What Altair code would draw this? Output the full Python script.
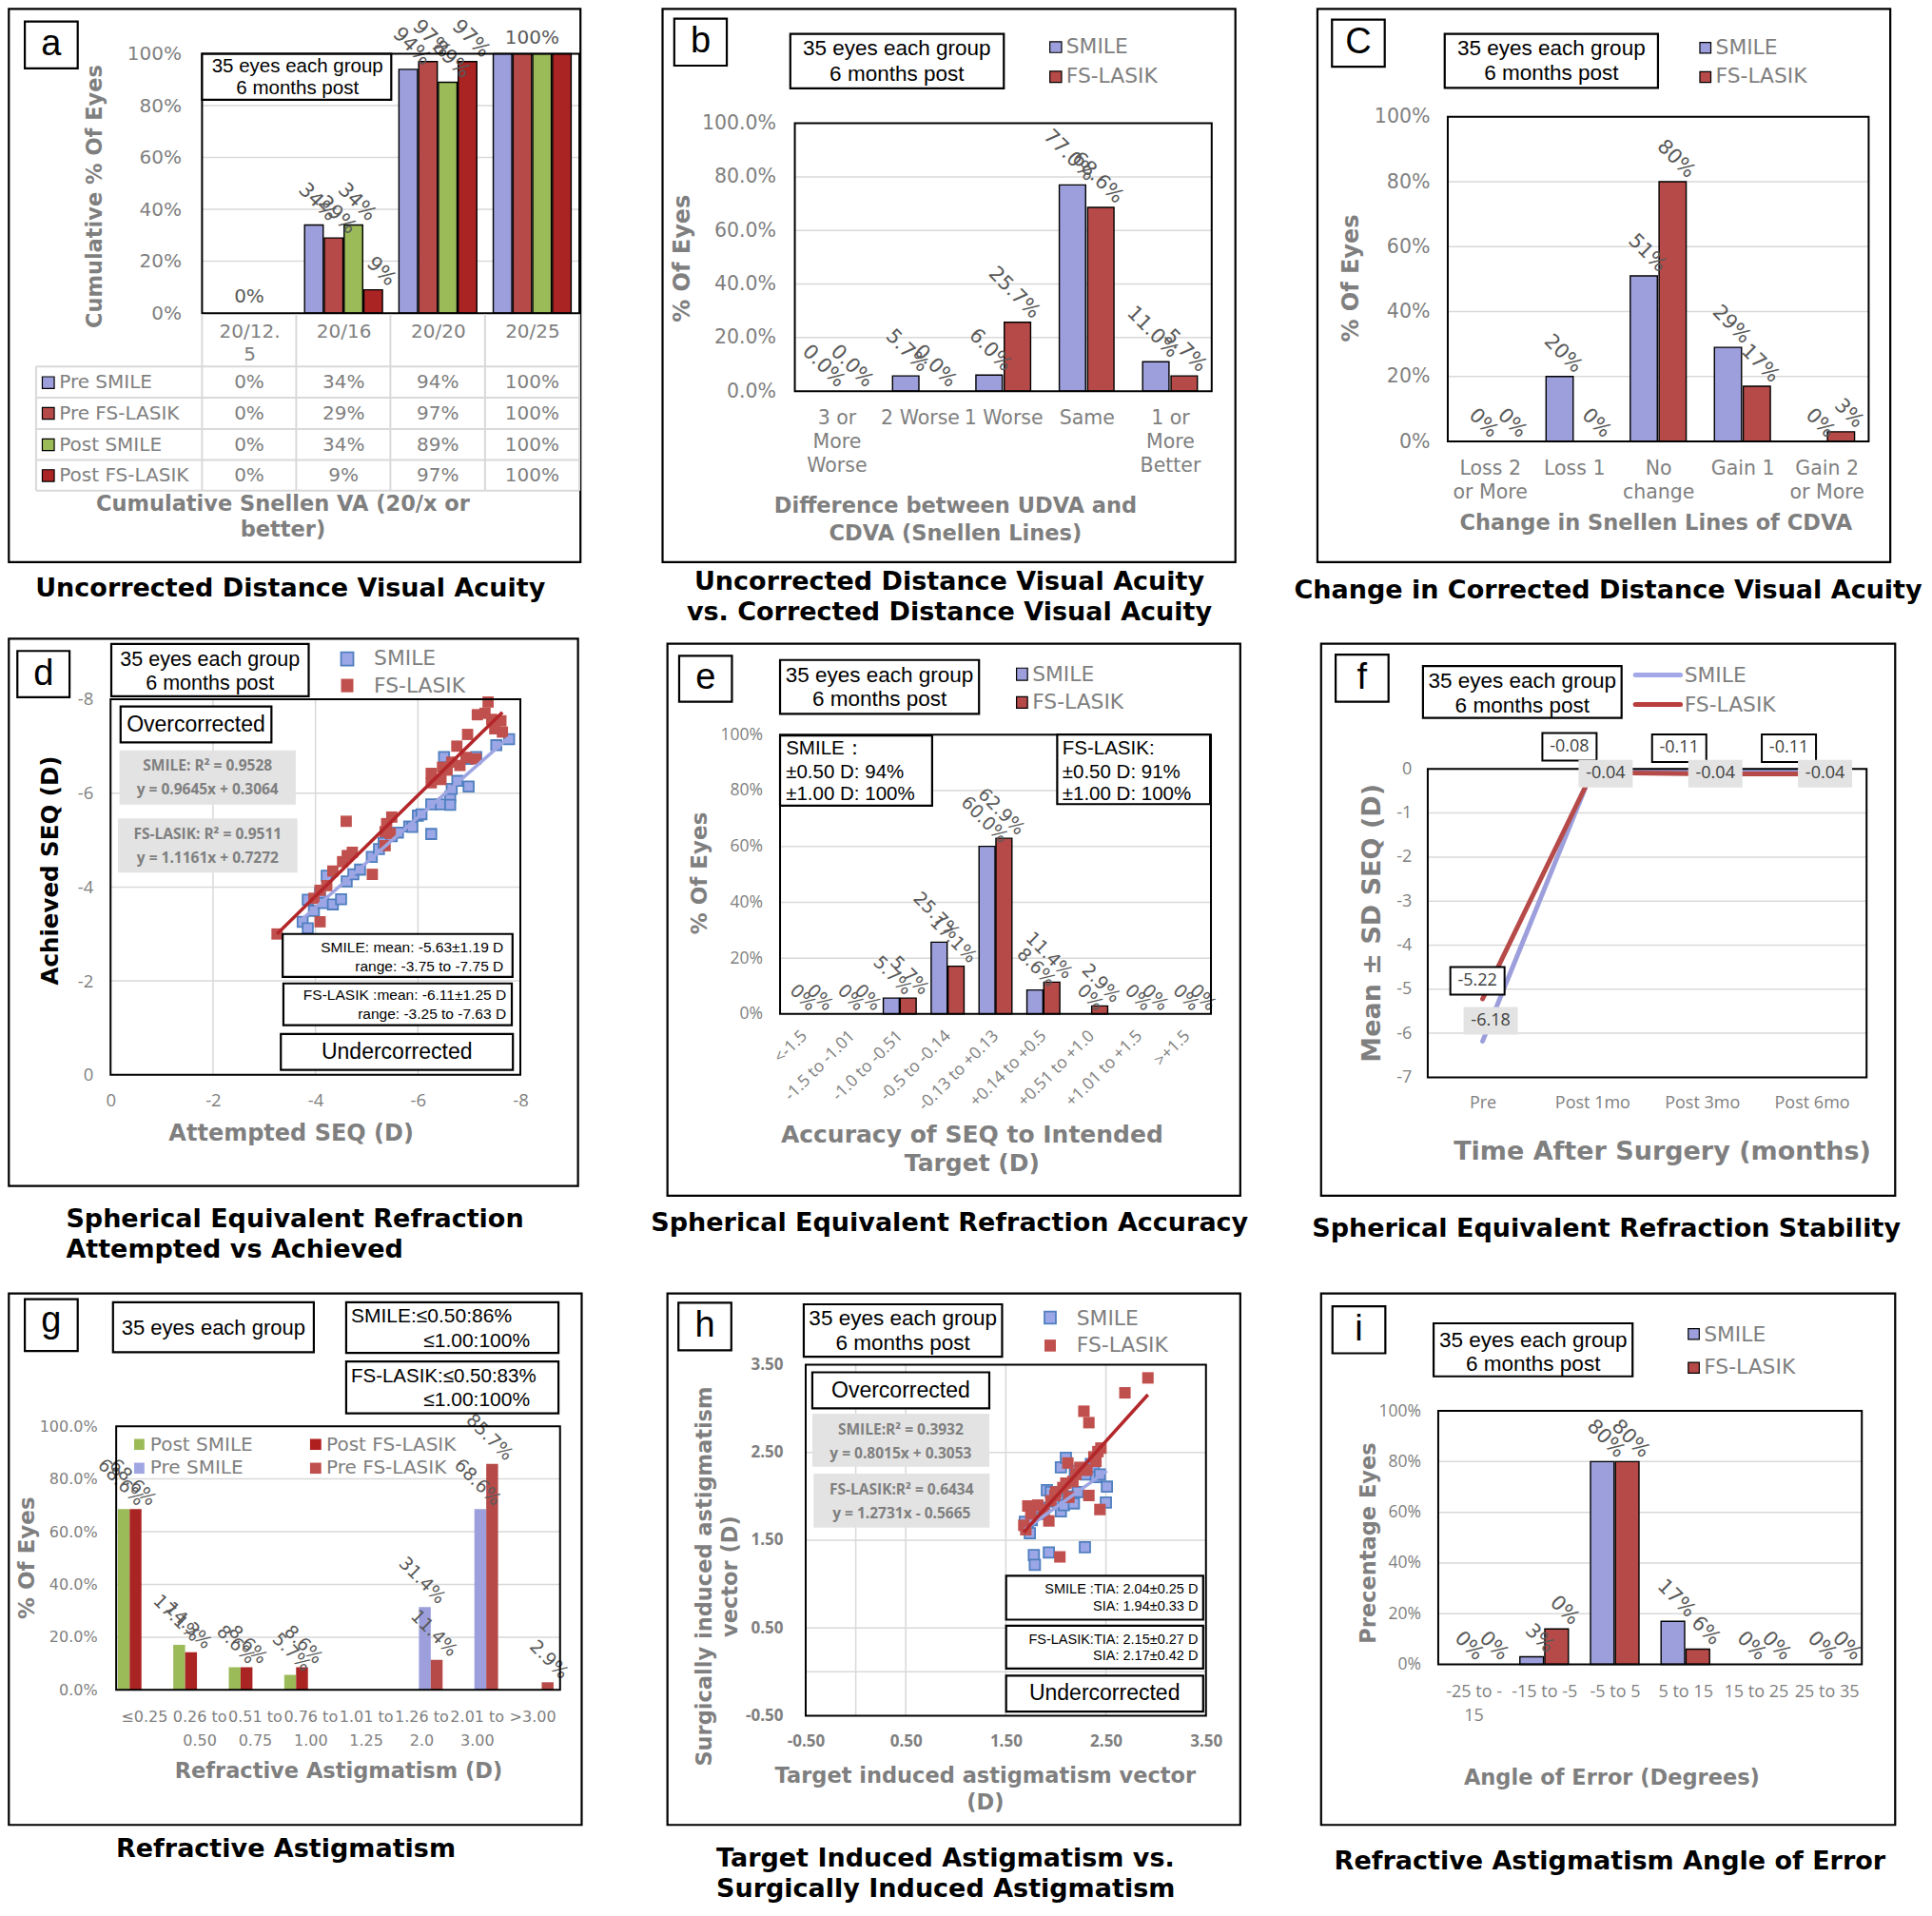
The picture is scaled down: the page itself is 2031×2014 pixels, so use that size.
import json
import altair as alt
import pandas as pd

# ================= values =================
A_CATS = ["20/12.5", "20/16", "20/20", "20/25"]
A_SERIES = ["Pre SMILE", "Pre FS-LASIK", "Post SMILE", "Post FS-LASIK"]
A_PRE_SMILE = [0, 34, 94, 100]
A_PRE_FS = [0, 29, 97, 100]
A_POST_SMILE = [0, 34, 89, 100]
A_POST_FS = [0, 9, 97, 100]

PAIR = ["SMILE", "FS-LASIK"]

B_CATS = ["3 or\nMore\nWorse", "2 Worse", "1 Worse", "Same", "1 or\nMore\nBetter"]
B_SMILE = [0.0, 5.7, 6.0, 77.0, 11.0]
B_FS = [0.0, 0.0, 25.7, 68.6, 5.7]

C_CATS = ["Loss 2\nor More", "Loss 1", "No\nchange", "Gain 1", "Gain 2\nor More"]
C_SMILE = [0, 20, 51, 29, 0]
C_FS = [0, 0, 80, 17, 3]

D_SMILE_X = [-3.75, -3.85, -3.85, -3.97, -4.09, -4.15, -4.22, -4.34, -4.50, -4.61, -4.74, -4.87, -5.10, -5.24,
             -5.33, -5.49, -5.61, -5.83, -5.89, -6.00, -6.07, -6.26, -6.26, -6.45, -6.51, -6.63, -6.63, -6.66,
             -6.77, -6.97, -6.99, -7.14, -7.53, -7.78]
D_SMILE_Y = [-3.26, -3.12, -3.73, -3.49, -3.87, -3.66, -4.24, -3.63, -3.74, -4.12, -4.27, -4.37, -4.64, -4.81,
             -4.94, -5.08, -5.16, -5.29, -5.28, -5.52, -5.55, -5.13, -5.76, -5.76, -6.77, -5.92, -5.75, -6.09,
             -6.26, -6.73, -6.14, -6.77, -7.02, -7.15]
D_FS_X = [-3.25, -3.97, -4.09, -4.09, -4.22, -4.34, -4.53, -4.60, -4.62, -4.72, -5.11, -5.36, -5.36, -5.39,
          -5.46, -5.49, -6.26, -6.26, -6.45, -6.48, -6.57, -6.66, -6.76, -6.82, -6.94, -6.97, -7.13, -7.16,
          -7.31, -7.37, -7.44, -7.50, -7.62, -7.65]
D_FS_Y = [-3.00, -3.76, -3.26, -3.93, -4.03, -4.34, -4.54, -5.40, -4.67, -4.74, -4.27, -4.88, -5.18, -5.35,
          -5.14, -5.49, -6.22, -6.42, -6.29, -6.55, -6.49, -6.66, -7.00, -6.59, -6.76, -7.25, -6.73, -7.67,
          -7.70, -7.94, -7.57, -7.37, -7.54, -7.30]

E_CATS = ["<-1.5", "-1.5 to -1.01", "-1.0 to -0.51", "-0.5 to -0.14", "-0.13 to +0.13", "+0.14 to +0.5",
          "+0.51 to +1.0", "+1.01 to +1.5", ">+1.5"]
E_SMILE = [0, 0, 5.7, 25.7, 60.0, 8.6, 0, 0, 0]
E_FS = [0, 0, 5.7, 17.1, 62.9, 11.4, 2.9, 0, 0]

F_CATS = ["Pre", "Post 1mo", "Post 3mo", "Post 6mo"]
F_SMILE = [-6.18, -0.04, -0.04, -0.04]
F_FS = [-5.22, -0.08, -0.11, -0.11]

G_CATS = ["\u22640.25", "0.26 to\n0.50", "0.51 to\n0.75", "0.76 to\n1.00", "1.01 to\n1.25", "1.26 to\n2.0",
          "2.01 to\n3.00", ">3.00"]
G_SERIES = ["Post SMILE", "Post FS-LASIK", "Pre SMILE", "Pre FS-LASIK"]
G_POST_SMILE = [68.6, 17.1, 8.6, 5.7, 0, 0, 0, 0]
G_POST_FS = [68.6, 14.3, 8.6, 8.6, 0, 0, 0, 0]
G_PRE_SMILE = [0, 0, 0, 0, 0, 31.4, 68.6, 0]
G_PRE_FS = [0, 0, 0, 0, 0, 11.4, 85.7, 2.9]

H_SMILE_X = [1.69, 1.72, 1.74, 1.76, 1.78, 1.79, 1.84, 1.88, 1.91, 1.93, 1.95, 1.99, 2.02, 2.05, 2.05, 2.08,
             2.10, 2.15, 2.18, 2.19, 2.22, 2.25, 2.29, 2.30, 2.35, 2.38, 2.40, 2.44, 2.50, 2.51]
H_SMILE_Y = [1.71, 1.65, 1.58, 1.73, 1.33, 1.22, 1.87, 1.80, 2.07, 1.36, 2.05, 1.94, 1.97, 1.83, 2.33, 1.90,
             2.44, 2.00, 1.92, 2.29, 2.05, 2.30, 1.42, 2.25, 2.37, 2.33, 2.22, 2.25, 1.93, 2.11]
H_FS_X = [1.68, 1.70, 1.72, 1.75, 1.82, 1.88, 1.93, 1.95, 1.99, 2.00, 2.04, 2.07, 2.10, 2.12, 2.13, 2.17,
          2.20, 2.24, 2.28, 2.28, 2.31, 2.33, 2.33, 2.38, 2.40, 2.42, 2.44, 2.45, 2.69, 2.92]
H_FS_Y = [1.67, 1.62, 1.89, 1.80, 1.90, 1.85, 1.72, 1.95, 2.01, 2.05, 1.31, 2.10, 2.15, 2.38, 1.99, 2.17,
          2.25, 2.33, 2.30, 2.97, 2.30, 2.84, 2.01, 2.45, 2.40, 2.51, 1.85, 2.55, 3.18, 3.35]

I_CATS = ["-25 to -\n15", "-15 to -5", "-5 to 5", "5 to 15", "15 to 25", "25 to 35"]
I_SMILE = [0, 3, 80, 17, 0, 0]
I_FS = [0, 14, 80, 6, 0, 0]
I_SMILE_LABELS = ["0%", "3%", "80%", "17%", "0%", "0%"]
I_FS_LABELS = ["0%", "0%", "80%", "6%", "0%", "0%"]

# ================= styling =================
S = 1.284
O = -2.5


def C(d):
    return d * S + O


GRAY = "#7f7f7f"
LABC = "#595959"
GRID = "#d9d9d9"
LAV = "#9c9fdb"
RED = "#b64a48"
DRED = "#ab2424"
GREEN = "#9bbb59"
G_LAV = "#a0a6e2"
G_RED = "#c0504d"
G_DRED = "#b01f1f"
SQ_BLUE = "#9ba7e6"
SQ_EDGE = "#4f7fbf"
SQ_RED = "#c0504d"
TR_LAV = "#9ea5e3"
TR_RED = "#b3262a"
F_LAV = "#a3a8e8"
F_RED = "#b83f3d"
BOXG = "#e3e3e3"
VER = "DejaVu Sans"
ARI = "Liberation Sans"
CAL = "Open Sans"
MINUS = "\u2212"
PCT = "datum.value + '%'"
STEPS = [0, 20, 40, 60, 80, 100]
INNER = [20, 40, 60, 80]


def nominus(fmt):
    return "replace(format(datum.value, '" + fmt + "'), '" + MINUS + "', '-')"


def cat_expr(cats, split=True):
    arr = "[" + ",".join(json.dumps(c, ensure_ascii=False) for c in cats) + "]"
    e = arr + "[datum.value]"
    return "split(" + e + ", '\\n')" if split else e


def long_df(cats, named):
    rows = []
    for s, vals in named:
        for i, (c, v) in enumerate(zip(cats, vals)):
            rows.append({"cat": c, "series": s, "value": v, "idx": i})
    return pd.DataFrame(rows)


class Panel:
    """One cell of the 3x3 grid. The view is the whole cell; the data rectangle is placed via scale ranges."""

    def __init__(self, plot, cell):
        cx0, cy0, cx1, cy1 = cell
        self.ox = C(cx0)
        self.oy = C(cy0)
        self.w = round(C(cx1) - self.ox, 2)
        self.h = round(C(cy1) - self.oy, 2)
        x0, y0, x1, y1 = plot
        self.px0, self.py0, self.px1, self.py1 = self.X(x0), self.Y(y0), self.X(x1), self.Y(y1)
        self.layers = []

    def X(self, d):
        return round(C(d) - self.ox, 2)

    def Y(self, d):
        return round(C(d) - self.oy, 2)

    def xr(self):
        return [self.px0, self.px1]

    def yr(self):
        return [self.py1, self.py0]

    def yoff(self):
        return -self.px0

    def xoff(self):
        return round(self.py1 - self.h, 2)

    @staticmethod
    def one():
        return alt.Chart(alt.Data(values=[{"k": 1}]))

    def rect(self, x0, y0, x1, y1, fill="white", stroke="black", sw=1.8, fill_opacity=1.0):
        mk = {"fill": fill}
        if fill_opacity < 1:
            mk["fillOpacity"] = fill_opacity
        if stroke:
            mk["stroke"] = stroke
            mk["strokeWidth"] = sw
        else:
            mk["strokeWidth"] = 0
        self.layers.append(self.one().mark_rect(**mk).encode(
            x=alt.value(self.X(x0)), x2=alt.value(self.X(x1)),
            y=alt.value(self.Y(y0)), y2=alt.value(self.Y(y1))))

    def border(self, sw=2.0):
        self.layers.append(self.one().mark_rect(fill="white", fillOpacity=0, stroke="black", strokeWidth=sw).encode(
            x=alt.value(self.px0), x2=alt.value(self.px1), y=alt.value(self.py0), y2=alt.value(self.py1)))

    def hgrid(self, values, ys, yax, color=GRID, width=1.5):
        df = pd.DataFrame({"v": list(values)})
        self.layers.append(alt.Chart(df).mark_rule(color=color, strokeWidth=width).encode(
            y=alt.Y("v:Q", scale=ys, axis=yax), x=alt.value(self.px0), x2=alt.value(self.px1)))

    def vgrid(self, values, xs, xax, color=GRID, width=1.5):
        df = pd.DataFrame({"v": list(values)})
        self.layers.append(alt.Chart(df).mark_rule(color=color, strokeWidth=width).encode(
            x=alt.X("v:Q", scale=xs, axis=xax), y=alt.value(self.py0), y2=alt.value(self.py1)))

    def rule(self, x0, y0, x1, y1, color=GRID, width=2.0, cap="butt"):
        self.layers.append(self.one().mark_rule(color=color, strokeWidth=width, strokeCap=cap).encode(
            x=alt.value(self.X(x0)), x2=alt.value(self.X(x1)),
            y=alt.value(self.Y(y0)), y2=alt.value(self.Y(y1))))

    def text(self, x, y, s, size, color="black", font=VER, weight="normal", align="center", angle=0):
        mk = dict(text=s, fontSize=size, fill=color, font=font, fontWeight=weight, align=align,
                  baseline="middle")
        if angle:
            mk["angle"] = angle
        self.layers.append(self.one().mark_text(**mk).encode(x=alt.value(self.X(x)), y=alt.value(self.Y(y))))

    def frame(self, x0, y0, x1, y1):
        self.rect(x0, y0, x1, y1, fill="white", fill_opacity=0.0, sw=2.2)

    def letter(self, box, ch, dy=0.0):
        x0, y0, x1, y1 = box
        self.rect(x0, y0, x1, y1, sw=2.2)
        self.text((x0 + x1) / 2, (y0 + y1) / 2 + dy, ch, 38, font=ARI)

    def note(self, box, lines, cx, ys, size=22.5):
        self.rect(*box, sw=2.2)
        for s, y in zip(lines, ys):
            self.text(cx, y, s, size, font=ARI)

    def ytitle(self, x, y, s, size, color=GRAY):
        self.text(x, y, s, size, color=color, weight="bold", angle=270)

    def xtitle(self, x, ys, lines, size):
        for s, y in zip(lines, ys):
            self.text(x, y, s, size, color=GRAY, weight="bold")

    def caption(self, x, ys, lines, align="center"):
        for s, y in zip(lines, ys):
            self.text(x, y, s, 27, weight="bold", align=align)

    def legend_sq(self, items, x0, x1, tx, size=21.8, edge="black"):
        for label, col, y0, y1, ty in items:
            self.rect(x0, y0, x1, y1, fill=col, stroke=edge, sw=1.2)
            self.text(tx, ty, label, size, color=GRAY, align="left")

    def chart(self):
        return alt.layer(*self.layers).properties(width=self.w, height=self.h)


def yaxis(p, values, expr, font, size, pad, weight="normal"):
    return alt.Axis(values=list(values), labelExpr=expr, labelFont=font, labelFontSize=size,
                    labelFontWeight=weight, labelColor=GRAY, labelPadding=pad, labelFlush=False,
                    labelOverlap=False, grid=False, domain=False, ticks=False, title=None, offset=p.yoff())


def xaxis(p, font, size, pad, expr, values, angle=0, align="center", baseline="top", lh=25, weight="normal"):
    return alt.Axis(values=list(values), labelExpr=expr, labelFont=font, labelFontSize=size,
                    labelFontWeight=weight, labelColor=GRAY, labelPadding=pad, labelAngle=angle,
                    labelAlign=align, labelBaseline=baseline, labelLineHeight=lh, labelOverlap=False,
                    labelFlush=False, labelLimit=600, grid=False, domain=False, ticks=False, title=None,
                    offset=p.xoff())


def bar_panel(p, df, cats, series, colors, geom, yax, xax, outline, lsize, ldx, ldy, label_filter=None):
    """geom = (group start inside the category step, slot width, bar width), in category-step units."""
    start, slot, bar = geom
    n = len(cats)
    xs = alt.Scale(domain=[-0.5, n - 0.5], range=p.xr(), nice=False, zero=False)
    ys = alt.Scale(domain=[0, 100], range=p.yr(), nice=False, zero=True)
    p.hgrid(INNER, ys, yax)
    order = json.dumps(series)
    base = alt.Chart(df).transform_calculate(
        k=f"indexof({order}, datum.series)"
    ).transform_calculate(
        x0=f"datum.idx - 0.5 + {start} + datum.k * {slot} + {(slot - bar) / 2}"
    ).transform_calculate(
        x1=f"datum.x0 + {bar}", xc=f"datum.x0 + {bar / 2}"
    )
    mk = dict(stroke="black", strokeWidth=1.4) if outline else dict(strokeWidth=0)
    bars = base.transform_filter("datum.value > 0").mark_bar(**mk).encode(
        x=alt.X("x0:Q", scale=xs, axis=xax), x2="x1:Q",
        y=alt.Y("value:Q", scale=ys, axis=yax), y2=alt.datum(0),
        color=alt.Color("series:N", scale=alt.Scale(domain=series, range=colors), legend=None))
    lab = base
    if label_filter is not None:
        lab = lab.transform_filter(label_filter)
    labels = lab.mark_text(angle=45, align="right", baseline="middle", dx=ldx, dy=ldy,
                           font=VER, fontSize=lsize, fill=LABC).encode(
        x=alt.X("xc:Q", scale=xs, axis=xax), y=alt.Y("value:Q", scale=ys, axis=yax), text="label:N")
    p.layers += [bars, labels]
    p.border()
    return xs, ys


def scatter_layers(p, sx, sy, fx, fy, xs, ys, xax, yax, s_size, f_size, lw):
    sdf = pd.DataFrame({"x": sx, "y": sy})
    fdf = pd.DataFrame({"x": fx, "y": fy})
    enc = dict(x=alt.X("x:Q", scale=xs, axis=xax), y=alt.Y("y:Q", scale=ys, axis=yax))
    p.layers += [
        alt.Chart(sdf).mark_square(size=s_size, filled=True, fill=SQ_BLUE, stroke=SQ_EDGE, strokeWidth=1.8,
                                   opacity=1).encode(**enc),
        alt.Chart(fdf).mark_square(size=f_size, filled=True, fill=SQ_RED, opacity=1).encode(**enc),
        alt.Chart(sdf).transform_regression("x", "y").mark_line(color=TR_LAV, strokeWidth=lw).encode(**enc),
        alt.Chart(fdf).transform_regression("x", "y").mark_line(color=TR_RED, strokeWidth=lw).encode(**enc),
    ]


COL = [(1, 500), (500, 1045), (1045, 1568)]
ROW = [(1, 512), (512, 1040), (1040, 1555)]


def cell(r, c):
    return (COL[c][0], ROW[r][0], COL[c][1], ROW[r][1])


LB = (21, 9.0, -19.3)   # big rotated bar labels: size, dx, dy
LS = (19, 8.4, -17.8)   # small rotated bar labels

# ================= panel a =================
pa = Panel((160.2, 38.8, 469.1, 251.1), cell(0, 0))
pa.frame(2, 2, 470, 455)
adf = long_df(A_CATS, list(zip(A_SERIES, [A_PRE_SMILE, A_PRE_FS, A_POST_SMILE, A_POST_FS])))
adf["label"] = [f"{v:.0f}%" for v in adf["value"]]
a_cols = [LAV, RED, GREEN, DRED]
a_yax = yaxis(pa, STEPS, PCT, VER, 20, 22)
a_xax = xaxis(pa, VER, 20, 19, "datum.value == 0 ? ['20/12.', '5'] : " + cat_expr(A_CATS, split=False),
              range(len(A_CATS)), baseline="middle", lh=24.5)
a_xs, a_ys = bar_panel(pa, adf, A_CATS, A_SERIES, a_cols, (0.081, 0.2095, 0.197), a_yax, a_xax, True, *LB,
                       label_filter=alt.FieldOneOfPredicate(field="cat", oneOf=["20/16", "20/20"]))
pa.layers.append(
    alt.Chart(adf)
    .transform_filter(alt.FieldEqualPredicate(field="series", equal="Pre SMILE"))
    .transform_filter(alt.FieldOneOfPredicate(field="cat", oneOf=["20/12.5", "20/25"]))
    .mark_text(font=VER, fontSize=20, fill=LABC, baseline="middle", dy=-17)
    .encode(x=alt.X("idx:Q", scale=a_xs, axis=a_xax), y=alt.Y("value:Q", scale=a_ys, axis=a_yax),
            text="label:N"))
for yy in [294.8, 320.3, 346.1, 371.3, 396.5]:
    pa.rule(24.3, yy, 469.1, yy)
pa.rule(24.3, 294.8, 24.3, 396.5)
for xx in [237.3, 314.4, 391.9, 469.1]:
    pa.rule(xx, 252.0, xx, 396.5)
pa.rule(160.2, 252.0, 160.2, 396.5)
for s, col, ry in zip(A_SERIES, a_cols, [308.0, 333.2, 358.9, 384.1]):
    pa.layers.append(
        alt.Chart(adf).transform_filter(alt.FieldEqualPredicate(field="series", equal=s))
        .mark_text(font=VER, fontSize=20, fill=GRAY, baseline="middle")
        .encode(x=alt.X("idx:Q", scale=a_xs, axis=a_xax), y=alt.value(pa.Y(ry)), text="label:N"))
    pa.rect(29.4, ry - 4.8, 39.2, ry + 4.8, fill=col, stroke="black", sw=1.2)
    pa.text(43.2, ry, s, 20, color=GRAY, align="left")
pa.note((160.2, 38.8, 315.1, 76.5), ["35 eyes each group", "6 months post"], 238.3, [49.2, 67.4], 20.5)
pa.letter((15.1, 12.4, 58.4, 50.8), "a")
pa.ytitle(72.3, 155.7, "Cumulative % Of Eyes", 22.5)
pa.xtitle(226.4, [407.8, 428.9], ["Cumulative Snellen VA (20/x or", "better)"], 22.5)
pa.caption(232.5, [477.0], ["Uncorrected Distance Visual Acuity"])

# ================= panel b =================
pb = Panel((645.3, 95.7, 986.6, 315.0), cell(0, 1))
pb.frame(537, 2, 1006, 455)
bdf = long_df(B_CATS, [("SMILE", B_SMILE), ("FS-LASIK", B_FS)])
bdf["label"] = [f"{v:.1f}%" for v in bdf["value"]]
bar_panel(pb, bdf, B_CATS, PAIR, [LAV, RED], (0.16, 0.34, 0.316),
          yaxis(pb, STEPS, "format(datum.value, '.1f') + '%'", VER, 20.5, 20),
          xaxis(pb, VER, 20.5, 18.8, cat_expr(B_CATS), range(len(B_CATS))), True, *LB)
pb.legend_sq([("SMILE", LAV, 29.0, 37.8, 32.9), ("FS-LASIK", RED, 53.1, 62.2, 57.3)], 854.1, 863.7, 867.4)
pb.note((641.6, 22.5, 816.4, 67.1), ["35 eyes each group", "6 months post"], 728.8, [34.5, 55.7])
pb.letter((546.6, 10.1, 589.6, 48.5), "b")
pb.ytitle(553.4, 206.4, "% Of Eyes", 24)
pb.xtitle(776.8, [408.8, 431.6], ["Difference between  UDVA and", "CDVA (Snellen Lines)"], 22.5)
pb.caption(771.8, [471.6, 496.6], ["Uncorrected Distance Visual Acuity", "vs. Corrected Distance Visual Acuity"])

# ================= panel c =================
pc = Panel((1179.7, 90.4, 1524.3, 356.2), cell(0, 2))
pc.frame(1073, 2, 1542, 455)
cdf = long_df(C_CATS, [("SMILE", C_SMILE), ("FS-LASIK", C_FS)])
cdf["label"] = [f"{v:.0f}%" for v in cdf["value"]]
bar_panel(pc, cdf, C_CATS, PAIR, [LAV, RED], (0.1575, 0.3425, 0.322),
          yaxis(pc, STEPS, PCT, VER, 20.5, 19),
          xaxis(pc, VER, 20.5, 18.8, cat_expr(C_CATS), range(len(C_CATS))), True, *LB)
pc.legend_sq([("SMILE", LAV, 29.5, 38.3, 33.6), ("FS-LASIK", RED, 53.5, 62.3, 57.2)], 1386.1, 1395.1, 1399.0)
pc.note((1177.2, 22.5, 1351.8, 66.7), ["35 eyes each group", "6 months post"], 1264.5, [34.5, 55.0])
pc.letter((1084.9, 10.8, 1128.1, 49.4), "C")
pc.ytitle(1100.9, 222.6, "% Of Eyes", 24)
pc.xtitle(1350.2, [423.4], ["Change in Snellen Lines of CDVA"], 22.5)
pc.caption(1311.0, [478.7], ["Change in Corrected Distance Visual Acuity"])

# ================= panel d =================
pdd = Panel((85.3, 566.5, 420.8, 874.0), cell(1, 0))
pdd.frame(2, 517, 468, 965)
d_vals = [0, -2, -4, -6, -8]
d_xs = alt.Scale(domain=[0, -8], range=pdd.xr(), nice=False, zero=False)
d_ys = alt.Scale(domain=[0, -8], range=pdd.yr(), nice=False, zero=False)
d_xax = xaxis(pdd, CAL, 18.5, 27, nominus("d"), d_vals, baseline="middle")
d_yax = yaxis(pdd, d_vals, nominus("d"), CAL, 18.5, 18.4)
pdd.hgrid([-2, -4, -6], d_ys, d_yax)
pdd.vgrid([-2, -4, -6], d_xs, d_xax)
scatter_layers(pdd, D_SMILE_X, D_SMILE_Y, D_FS_X, D_FS_Y, d_xs, d_ys, d_xax, d_yax, 115, 140, 3.5)
pdd.border()
pdd.rect(274.0, 528.0, 284.1, 539.0, fill=SQ_BLUE, stroke=SQ_EDGE, sw=1.8)
pdd.rect(274.0, 549.8, 284.1, 560.8, fill=SQ_RED, stroke=None)
pdd.text(300.9, 533.0, "SMILE", 21.8, color=GRAY, align="left")
pdd.text(300.9, 555.4, "FS-LASIK", 21.8, color=GRAY, align="left")
pdd.note((85.9, 521.3, 247.5, 564.1), ["35 eyes each group", "6 months post"], 166.7, [534.7, 553.8], 21.5)
pdd.letter((9.0, 527.0, 51.7, 564.8), "d")
pdd.note((93.5, 572.5, 217.0, 601.9), ["Overcorrected"], 155.2, [587.2], 23)
pdd.rect(92.6, 608.3, 236.9, 652.8, fill=BOXG, stroke=None)
pdd.text(164.7, 621.0, "SMILE: R\u00b2 = 0.9528", 15.5, color=GRAY, font=CAL, weight="bold")
pdd.text(164.7, 640.7, "y = 0.9645x + 0.3064", 15.5, color=GRAY, font=CAL, weight="bold")
pdd.rect(91.4, 664.0, 238.3, 708.5, fill=BOXG, stroke=None)
pdd.text(164.8, 676.8, "FS-LASIK: R\u00b2 = 0.9511", 15.5, color=GRAY, font=CAL, weight="bold")
pdd.text(164.8, 696.9, "y = 1.1161x + 0.7272", 15.5, color=GRAY, font=CAL, weight="bold")
pdd.rect(226.2, 758.7, 414.4, 793.8, sw=2.2)
pdd.text(407.0, 769.7, "SMILE:  mean: -5.63\u00b11.19 D", 15.5, font=ARI, align="right")
pdd.text(407.0, 785.4, "range: -3.75 to -7.75 D", 15.5, font=ARI, align="right")
pdd.rect(226.8, 799.2, 413.8, 833.3, sw=2.2)
pdd.text(409.2, 808.8, "FS-LASIK :mean: -6.11\u00b11.25 D", 15.5, font=ARI, align="right")
pdd.text(409.2, 824.5, "range: -3.25 to -7.63 D", 15.5, font=ARI, align="right")
pdd.note((224.7, 840.6, 414.7, 870.0), ["Undercorrected"], 319.7, [855.6], 23)
pdd.ytitle(36.6, 706.7, "Achieved SEQ (D)", 24.5, color="black")
pdd.xtitle(233.2, [922.5], ["Attempted SEQ (D)"], 24)
pdd.caption(48.8, [992.7, 1017.8], ["Spherical Equivalent Refraction", "Attempted vs Achieved"], align="left")

# ================= panel e =================
pe = Panel((633.2, 595.5, 986.0, 824.2), cell(1, 1))
pe.frame(541, 521, 1010, 973)
edf = long_df(E_CATS, [("SMILE", E_SMILE), ("FS-LASIK", E_FS)])
edf["label"] = ["0%" if v == 0 else f"{v:.1f}%" for v in edf["value"]]
bar_panel(pe, edf, E_CATS, PAIR, [LAV, RED], (0.1465, 0.353, 0.334),
          yaxis(pe, STEPS, PCT, CAL, 17.5, 18.5),
          xaxis(pe, CAL, 17.5, 20, cat_expr(E_CATS, split=False), range(len(E_CATS)), angle=315, align="right",
                baseline="middle"),
          True, *LS)
pe.legend_sq([("SMILE", LAV, 541.0, 551.0, 546.0), ("FS-LASIK", RED, 564.5, 573.8, 569.0)], 826.8, 835.8, 839.7)
pe.note((633.2, 534.4, 796.1, 578.5), ["35 eyes each group", "6 months post"], 714.6, [547.0, 566.8])
pe.letter((550.6, 531.0, 593.8, 568.5), "e")
pe.rect(633.2, 596.2, 757.7, 653.7, sw=2.2)
for s, y in zip(["SMILE\uff1a", "\u00b10.50 D: 94%", "\u00b11.00 D: 100%"], [607.0, 626.3, 644.7]):
    pe.text(638.0, y, s, 20.5, font=ARI, align="left")
pe.rect(860.1, 595.5, 985.3, 652.4, sw=2.2)
for s, y in zip(["FS-LASIK:", "\u00b10.50 D: 91%", "\u00b11.00 D: 100%"], [607.0, 626.3, 644.7]):
    pe.text(864.3, y, s, 20.5, font=ARI, align="left")
pe.ytitle(567.6, 709.0, "% Of Eyes", 23)
pe.xtitle(790.4, [923.2, 946.2], ["Accuracy of SEQ to Intended", "Target (D)"], 25)
pe.caption(772.0, [995.7], ["Spherical Equivalent Refraction Accuracy"])

# ================= panel f =================
pf = Panel((1163.3, 623.6, 1522.6, 876.0), cell(1, 2))
pf.frame(1076, 521, 1546, 973)
fdf = long_df(F_CATS, [("SMILE", F_SMILE), ("FS-LASIK", F_FS)])
fdf["label"] = [f"{v:.2f}" for v in fdf["value"]]
f_xs = alt.Scale(type="point", domain=F_CATS, padding=0.5, range=pf.xr())
f_ys = alt.Scale(domain=[-7, 0], range=pf.yr(), nice=False, zero=False)
f_xax = alt.Axis(labelFont=CAL, labelFontSize=18, labelColor=GRAY, labelPadding=27, labelBaseline="middle",
                 labelAngle=0, labelAlign="center", labelOverlap=False, labelLimit=600, grid=False,
                 domain=False, ticks=False, title=None, offset=pf.xoff())
f_yax = yaxis(pf, list(range(-7, 1)), nominus("d"), CAL, 18, 17)
f_enc = dict(x=alt.X("cat:N", scale=f_xs, axis=f_xax), y=alt.Y("value:Q", scale=f_ys, axis=f_yax))
pf.hgrid(list(range(-6, 0)), f_ys, f_yax)
pf.layers.append(alt.Chart(fdf).mark_line(strokeWidth=5, strokeCap="round").encode(
    color=alt.Color("series:N", scale=alt.Scale(domain=PAIR, range=[F_LAV, F_RED]), legend=None),
    order=alt.Order("idx:Q"), **f_enc))
pf.border()


def box_path(w, h, cx, cy):
    return (f"M{cx - w / 2:.1f},{cy - h / 2:.1f}H{cx + w / 2:.1f}V{cy + h / 2:.1f}"
            f"H{cx - w / 2:.1f}Z")


F_LABEL_STYLE = [
    ("datum.series == 'FS-LASIK' && datum.idx > 0", -24.0, -27.0, "white", True),
    ("datum.series == 'FS-LASIK' && datum.idx == 0", -5.4, -19.0, "white", True),
    ("datum.series == 'SMILE' && datum.idx > 0", 14.0, 3.0, BOXG, False),
    ("datum.series == 'SMILE' && datum.idx == 0", 8.5, -21.4, BOXG, False),
]
for cond, cx, cy, fill, edged in F_LABEL_STYLE:
    sub = alt.Chart(fdf).transform_filter(cond)
    mk = dict(shape=box_path(57, 29, cx, cy), size=4, filled=True, fill=fill, opacity=1)
    if edged:
        mk.update(stroke="black", strokeWidth=2)
    else:
        mk.update(strokeWidth=0)
    pf.layers.append(sub.mark_point(**mk).encode(**f_enc))
    pf.layers.append(sub.mark_text(dx=cx, dy=cy, font=CAL, fontSize=18, fill="#404040", baseline="middle")
                     .encode(text="label:N", **f_enc))
pf.rule(1333.3, 546.7, 1370.2, 546.7, color=F_LAV, width=5, cap="round")
pf.rule(1333.3, 570.8, 1370.2, 570.8, color=F_RED, width=5, cap="round")
pf.text(1373.4, 546.7, "SMILE", 21.8, color=GRAY, align="left")
pf.text(1373.4, 570.8, "FS-LASIK", 21.8, color=GRAY, align="left")
pf.note((1159.4, 539.4, 1322.0, 581.8), ["35 eyes each group", "6 months post"], 1240.7, [551.8, 571.8])
pf.letter((1087.9, 530.0, 1131.2, 568.5), "f")
pf.ytitle(1118.3, 749.8, "Mean \u00b1 SD SEQ (D)", 27)
pf.xtitle(1355.4, [937.2], ["Time After Surgery (months)"], 27)
pf.caption(1309.5, [1000.7], ["Spherical Equivalent Refraction Stability"])

# ================= panel g =================
pg = Panel((89.9, 1161.6, 453.3, 1377.5), cell(2, 0))
pg.frame(2, 1053, 471, 1488)
gdf = long_df(G_CATS, list(zip(G_SERIES, [G_POST_SMILE, G_POST_FS, G_PRE_SMILE, G_PRE_FS])))
gdf["label"] = [f"{v:.1f}%" for v in gdf["value"]]
bar_panel(pg, gdf, G_CATS, G_SERIES, [GREEN, G_DRED, G_LAV, G_RED], (0.029, 0.2135, 0.2135),
          yaxis(pg, STEPS, "format(datum.value, '.1f') + '%'", VER, 16, 20),
          xaxis(pg, VER, 16, 20, cat_expr(G_CATS), range(len(G_CATS))),
          False, *LS, label_filter="datum.value > 0")
for label, col, x0, x1, y0, y1, tx, ty in [
        ("Post SMILE", GREEN, 104.6, 113.0, 1172.0, 1181.0, 117.7, 1177.0),
        ("Pre SMILE", G_LAV, 104.6, 113.0, 1191.5, 1200.5, 117.7, 1196.0),
        ("Post FS-LASIK", G_DRED, 248.6, 257.8, 1172.0, 1181.0, 262.0, 1177.0),
        ("Pre FS-LASIK", G_RED, 248.6, 257.8, 1191.5, 1200.5, 262.0, 1196.0)]:
    pg.rect(x0, y0, x1, y1, fill=col, stroke=None)
    pg.text(tx, ty, label, 20, color=GRAY, align="left")
pg.note((87.3, 1060.2, 251.7, 1101.1), ["35 eyes each group"], 169.5, [1081.5], 22)
pg.rect(278.2, 1060.2, 452.0, 1101.7, sw=2.2)
pg.text(282.1, 1071.6, "SMILE:\u22640.50:86%", 21, font=ARI, align="left")
pg.text(341.5, 1091.9, "\u22641.00:100%", 21, font=ARI, align="left")
pg.rect(278.2, 1108.6, 452.0, 1151.1, sw=2.2)
pg.text(282.1, 1120.7, "FS-LASIK:\u22640.50:83%", 20.5, font=ARI, align="left")
pg.text(341.5, 1140.3, "\u22641.00:100%", 21, font=ARI, align="left")
pg.letter((15.1, 1057.6, 58.4, 1100.0), "g", dy=-3)
pg.ytitle(17.2, 1269.5, "% Of Eyes", 23)
pg.xtitle(272.0, [1443.9], ["Refractive Astigmatism (D)"], 22.5)
pg.caption(228.8, [1508.3], ["Refractive Astigmatism"])

# ================= panel h =================
ph = Panel((654.2, 1111.3, 981.9, 1398.6), cell(2, 1))
ph.frame(541, 1053, 1010, 1488)
h_vals = [-0.5, 0.5, 1.5, 2.5, 3.5]
h_xs = alt.Scale(domain=[-0.5, 3.5], range=ph.xr(), nice=False, zero=False)
h_ys = alt.Scale(domain=[-0.5, 3.5], range=ph.yr(), nice=False, zero=False)
h_xax = xaxis(ph, CAL, 17, 27.5, nominus(".2f"), h_vals, baseline="middle", weight="bold")
h_yax = yaxis(ph, h_vals, nominus(".2f"), CAL, 17, 24, weight="bold")
ph.hgrid([0, 0.5, 1.5, 2.5], h_ys, h_yax)
ph.vgrid([0, 0.5, 1.5, 2.5], h_xs, h_xax)
scatter_layers(ph, H_SMILE_X, H_SMILE_Y, H_FS_X, H_FS_Y, h_xs, h_ys, h_xax, h_yax, 120, 145, 3.5)
ph.border()
ph.rect(849.7, 1067.7, 859.0, 1077.6, fill=SQ_BLUE, stroke=SQ_EDGE, sw=1.8)
ph.rect(849.7, 1090.7, 859.0, 1100.5, fill=SQ_RED, stroke=None)
ph.text(876.0, 1073.3, "SMILE", 21.8, color=GRAY, align="left")
ph.text(876.0, 1095.6, "FS-LASIK", 21.8, color=GRAY, align="left")
ph.note((652.6, 1061.8, 815.0, 1104.8), ["35 eyes each group", "6 months post"], 733.8, [1073.3, 1094.0])
ph.letter((550.0, 1060.5, 593.3, 1099.5), "h")
ph.note((659.6, 1117.5, 804.5, 1147.0), ["Overcorrected"], 732.0, [1132.3], 23)
ph.rect(659.6, 1151.3, 804.5, 1194.8, fill=BOXG, stroke=None)
ph.text(732.0, 1164.4, "SMILE:R\u00b2 = 0.3932", 15.5, color=GRAY, font=CAL, weight="bold")
ph.text(732.0, 1184.0, "y = 0.8015x + 0.3053", 15.5, color=GRAY, font=CAL, weight="bold")
ph.rect(660.6, 1200.4, 804.8, 1244.6, fill=BOXG, stroke=None)
ph.text(732.7, 1213.5, "FS-LASIK:R\u00b2 = 0.6434", 15.5, color=GRAY, font=CAL, weight="bold")
ph.text(732.7, 1233.2, "y = 1.2731x - 0.5665", 15.5, color=GRAY, font=CAL, weight="bold")
ph.rect(818.3, 1284.0, 979.6, 1320.0, sw=2.2)
ph.text(975.4, 1295.4, "SMILE   :TIA: 2.04\u00b10.25 D", 14.5, font=ARI, align="right")
ph.text(975.4, 1309.5, "SIA: 1.94\u00b10.33 D", 14.5, font=ARI, align="right")
ph.rect(818.3, 1325.0, 979.6, 1360.0, sw=2.2)
ph.text(975.4, 1336.4, "FS-LASIK:TIA: 2.15\u00b10.27 D", 14.5, font=ARI, align="right")
ph.text(975.4, 1350.1, "SIA: 2.17\u00b10.42 D", 14.5, font=ARI, align="right")
ph.note((818.3, 1365.9, 979.6, 1395.3), ["Undercorrected"], 898.9, [1380.6], 23)
ph.ytitle(571.5, 1284.6, "Surgically induced astigmatism", 22.5)
ph.ytitle(592.4, 1284.6, "vector (D)", 22.5)
ph.xtitle(801.3, [1447.8, 1470.0], ["Target induced astigmatism vector", "(D)"], 22.5)
ph.caption(581.0, [1515.9, 1541.1], ["Target Induced Astigmatism vs.", "Surgically Induced Astigmatism"],
           align="left")

# ================= panel i =================
pi_ = Panel((1171.9, 1149.1, 1518.7, 1356.6), cell(2, 2))
pi_.frame(1076, 1053, 1546, 1488)
idf = long_df(I_CATS, [("SMILE", I_SMILE), ("FS-LASIK", I_FS)])
idf["label"] = I_SMILE_LABELS + I_FS_LABELS
bar_panel(pi_, idf, I_CATS, PAIR, [LAV, RED], (0.147, 0.353, 0.334),
          yaxis(pi_, STEPS, PCT, CAL, 17.5, 18.5),
          xaxis(pi_, CAL, 18, 19.9, cat_expr(I_CATS), range(len(I_CATS))), True, *LB)
pi_.legend_sq([("SMILE", LAV, 1081.7, 1090.5, 1086.6), ("FS-LASIK", RED, 1109.4, 1118.2, 1113.3)],
              1376.6, 1385.6, 1389.4)
pi_.note((1168.1, 1077.4, 1331.0, 1120.8), ["35 eyes each group", "6 months post"], 1249.6, [1091.4, 1110.7])
pi_.letter((1085.3, 1063.4, 1128.6, 1101.9), "i")
pi_.ytitle(1115.1, 1257.3, "Precentage Eyes", 22.5)
pi_.xtitle(1314.0, [1449.8], ["Angle of Error (Degrees)"], 22.5)
pi_.caption(1312.4, [1518.2], ["Refractive Astigmatism Angle of Error"])

# ================= assemble =================
panels = [pa, pb, pc, pdd, pe, pf, pg, ph, pi_]
chart = (
    alt.concat(*[p.chart() for p in panels], columns=3, spacing=0, bounds="flush", align="each")
    .properties(padding=0, background="white")
    .configure_view(stroke="transparent", strokeWidth=0)
)
chart.save("out.html", embed_options={"renderer": "svg", "actions": False})
